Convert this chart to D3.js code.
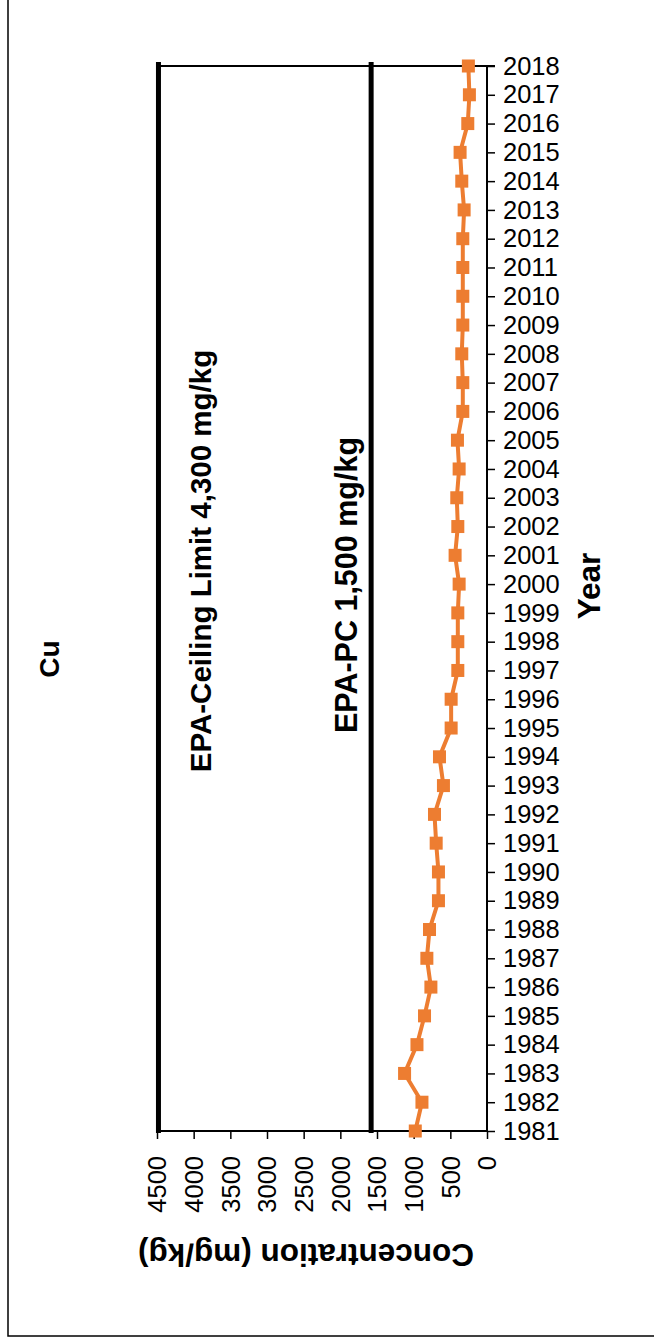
<!DOCTYPE html>
<html><head><meta charset="utf-8">
<script src="https://cdn.jsdelivr.net/npm/d3@7"></script>
<style>
body{margin:0;background:#fff;}
svg{display:block;font-family:"Liberation Sans",Arial,sans-serif;}
.tk text{font-size:25.5px !important;font-family:"Liberation Sans",Arial,sans-serif !important;fill:#000;}
</style></head><body>
<svg id="c" width="654" height="1344"></svg>
<script>
const years = d3.range(1981, 2019).map(String);
const cuValues = [978, 887, 1124, 955, 852, 765, 820, 784, 662, 662, 693, 716, 594, 648, 489, 489, 398, 398, 398, 380, 435, 398, 412, 380, 403, 330, 330, 344, 330, 330, 330, 330, 312, 344, 367, 262, 240, 254];
const valueTicks = [0, 500, 1000, 1500, 2000, 2500, 3000, 3500, 4000, 4500];
const limitValues = [4480, 1580];
const limitLabels = ["EPA-Ceiling Limit  4,300 mg/kg", "EPA-PC 1,500 mg/kg"];
const chartTitle = "Cu";
const valueTitle = "Concentration (mg/kg)";
const catTitle = "Year";

const svg = d3.select("#c");
svg.append("rect").attr("x", 8).attr("y", -10).attr("width", 700).attr("height", 1346)
  .attr("fill", "none").attr("stroke", "#000").attr("stroke-width", 1.5);

const L = 157, R = 487, T = 66, B = 1131;
const x = d3.scaleLinear().domain([0, 4500]).range([R, L]);
const y = d3.scalePoint().domain(years).range([B, T]);

svg.append("line").attr("x1", L).attr("x2", R + 8).attr("y1", T).attr("y2", T)
  .attr("stroke", "#000").attr("stroke-width", 2);

svg.selectAll("line.lim").data(limitValues).join("line").attr("class", "lim")
  .attr("x1", d => x(d)).attr("x2", d => x(d)).attr("y1", T - 4).attr("y2", B + 2)
  .attr("stroke", "#000").attr("stroke-width", 5);

const ya = svg.append("g").attr("class", "tk").attr("transform", `translate(${R},0)`)
  .call(d3.axisRight(y).tickSize(8).tickPadding(8));
ya.attr("font-size", null).attr("font-family", null);
ya.select(".domain").attr("stroke-width", 2).attr("d", `M0,${T}V${B}`);
ya.selectAll(".tick line").attr("stroke-width", 1.5);

const xa = svg.append("g").attr("class", "tk").attr("transform", `translate(0,${B})`)
  .call(d3.axisBottom(x).tickValues(valueTicks).tickSize(8).tickFormat(d3.format("d")));
xa.attr("font-size", null).attr("font-family", null);
xa.select(".domain").attr("stroke-width", 2).attr("d", `M${L},0H${R}`);
xa.selectAll(".tick line").attr("stroke-width", 1.5);
xa.selectAll("text")
  .attr("transform", "rotate(-90)").attr("text-anchor", "end")
  .attr("x", -25).attr("y", 0).attr("dy", "0.35em");

const line = d3.line().x(d => x(d[1])).y(d => y(d[0]));
const pts = years.map((yr, i) => [yr, cuValues[i]]);
svg.append("path").datum(pts).attr("d", line).attr("fill", "none")
  .attr("stroke", "#ED7D31").attr("stroke-width", 4);
svg.selectAll("rect.m").data(pts).join("rect").attr("class", "m")
  .attr("x", d => x(d[1]) - 6.5).attr("y", d => y(d[0]) - 6.5)
  .attr("width", 13).attr("height", 13).attr("fill", "#ED7D31");

function vtext(tx, ty, txt, size, rot) {
  svg.append("text").attr("transform", `translate(${tx},${ty}) rotate(${rot})`)
    .attr("text-anchor", "middle").attr("font-weight", "bold")
    .style("font-size", size + "px").attr("fill", "#000").text(txt);
}
vtext(59, 659, chartTitle, 28, -90);
vtext(211, 561, limitLabels[0], 29.5, -90);
vtext(357, 585, limitLabels[1], 30.5, -90);
vtext(600, 586, catTitle, 31.5, -90);
vtext(306, 1244, valueTitle, 31.5, 180);
</script>
</body></html>
